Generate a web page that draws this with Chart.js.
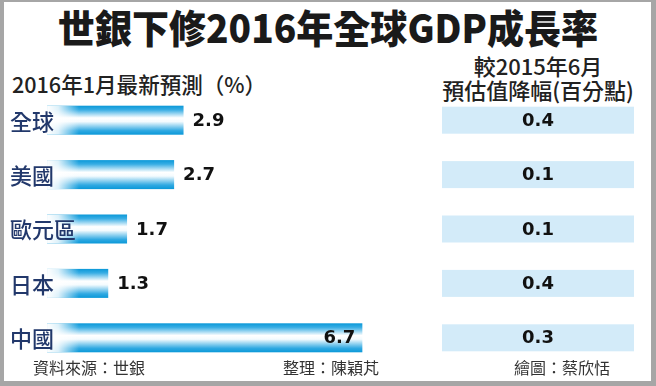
<!DOCTYPE html>
<html>
<head>
<meta charset="utf-8">
<script src="https://cdn.jsdelivr.net/npm/chart.js@4"></script>
<style>
  body { margin: 0; background: #fff; width: 656px; height: 386px; overflow: hidden; position: relative; font-family: "Noto Sans CJK TC", sans-serif; }
  #marco { position: absolute; left: 0; top: 0; width: 656px; height: 386px; box-sizing: border-box;
           border-style: solid; border-color: #a6a6a6; border-width: 2px 5px 5px 4px; }
  .txt { position: absolute; white-space: nowrap; line-height: 1; }
  #titulo { left: 0; width: 656px; top: 7px; text-align: center; font-size: 39px; font-weight: 900; color: #1a1a1a;
            transform: scaleX(0.95); }
  #sub-esq { left: 12px; top: 72px; font-size: 22px; font-weight: 500; color: #222;
             transform: scaleX(0.98); transform-origin: left center; }
  #sub-dir1, #sub-dir2 { left: 428px; width: 220px; text-align: center; font-size: 22px; font-weight: 500; color: #222; }
  #sub-dir1 { top: 54px; }
  #sub-dir2 { top: 78px; }
  .rodape { top: 359px; font-size: 16px; color: #333; }
  .caixa { position: absolute; }
</style>
</head>
<body>
<div id="marco"></div>
<div id="titulo" class="txt">世銀下修2016年全球GDP成長率</div>
<div id="sub-esq" class="txt">2016年1月最新預測（%）</div>
<div id="sub-dir1" class="txt">較2015年6月</div>
<div id="sub-dir2" class="txt">預估值降幅(百分點)</div>
<div class="caixa" style="left:0; top:93px; width:400px; height:272px;"><canvas id="graficoCrescimento"></canvas></div>
<div class="caixa" style="left:442px; top:93px; width:192px; height:272px;"><canvas id="graficoQueda"></canvas></div>
<div class="txt rodape" style="left:33px;">資料來源：世銀</div>
<div class="txt rodape" style="left:283px;">整理：陳穎芃</div>
<div class="txt rodape" style="left:514px;">繪圖：蔡欣恬</div>

<script>
// dados
const regioes = ["全球", "美國", "歐元區", "日本", "中國"];
const previsao2016 = [2.9, 2.7, 1.7, 1.3, 6.7];      // 2016年1月最新預測 (%)
const quedaDesde2015 = [0.4, 0.1, 0.1, 0.4, 0.3];    // 較2015年6月 降幅 (百分點)

const fonteNumero = "bold 18px 'DejaVu Sans', sans-serif";

// barras azuis com degradê + rótulos
const pluginBarras = {
  id: "barrasDegrade",
  afterDatasetsDraw(chart) {
    const ctx = chart.ctx;
    const meta = chart.getDatasetMeta(0);
    meta.data.forEach((bar, i) => {
      const { x, y, base, height } = bar.getProps(["x", "y", "base", "height"], true);
      const topo = y - height / 2;
      const gv = ctx.createLinearGradient(0, topo, 0, topo + height);
      gv.addColorStop(0, "#0a98d8");
      gv.addColorStop(0.14, "#37ade4");
      gv.addColorStop(0.42, "#ffffff");
      gv.addColorStop(0.55, "#f4fbfe");
      gv.addColorStop(0.86, "#30a9e2");
      gv.addColorStop(1, "#0a98d8");
      ctx.save();
      ctx.fillStyle = gv;
      ctx.fillRect(base, topo, x - base, height);
      // esmaecido branco no início da barra
      const gh = ctx.createLinearGradient(base, 0, base + 32, 0);
      gh.addColorStop(0, "rgba(255,255,255,1)");
      gh.addColorStop(0.35, "rgba(255,255,255,0.85)");
      gh.addColorStop(1, "rgba(255,255,255,0)");
      ctx.fillStyle = gh;
      ctx.fillRect(base, topo, Math.min(32, x - base), height);

      // nome da região
      ctx.font = "500 22px 'Noto Sans CJK TC', sans-serif";
      ctx.fillStyle = "#22386b";
      ctx.textAlign = "left";
      ctx.textBaseline = "middle";
      ctx.fillText(chart.data.labels[i], 10, y + 1);

      // valor
      const texto = chart.data.datasets[0].data[i].toFixed(1);
      ctx.font = fonteNumero;
      ctx.fillStyle = "#111";
      const largura = ctx.measureText(texto).width;
      if (x + 9 + largura > chart.chartArea.right) {
        ctx.textAlign = "right";
        ctx.fillText(texto, x - 7, y + 1);
      } else {
        ctx.fillText(texto, x + 9, y + 1);
      }
      ctx.restore();
    });
  }
};

// faixas azul-claro com o valor centralizado
const pluginFaixas = {
  id: "faixasTabela",
  afterDatasetsDraw(chart) {
    const ctx = chart.ctx;
    const area = chart.chartArea;
    const meta = chart.getDatasetMeta(0);
    meta.data.forEach((bar, i) => {
      const { y, height } = bar.getProps(["y", "height"], true);
      ctx.save();
      ctx.fillStyle = "#d3ebf9";
      ctx.fillRect(area.left, y - height / 2, area.right - area.left, height);
      ctx.font = fonteNumero;
      ctx.fillStyle = "#111";
      ctx.textAlign = "center";
      ctx.textBaseline = "middle";
      ctx.fillText(chart.data.datasets[0].data[i].toFixed(1), (area.left + area.right) / 2, y + 1);
      ctx.restore();
    });
  }
};

const opcoesBase = {
  responsive: true,
  maintainAspectRatio: false,
  animation: false,
  indexAxis: "y",
  layout: { padding: 0 },
  plugins: { legend: { display: false }, tooltip: { enabled: false } },
};

new Chart(document.getElementById("graficoCrescimento").getContext("2d"), {
  type: "bar",
  data: {
    labels: regioes,
    datasets: [{ data: previsao2016, barThickness: 29, backgroundColor: "rgba(0,0,0,0)" }]
  },
  options: {
    ...opcoesBase,
    scales: {
      x: { type: "linear", min: -1, max: 7.5, display: false },
      y: { display: false }
    }
  },
  plugins: [pluginBarras]
});

new Chart(document.getElementById("graficoQueda").getContext("2d"), {
  type: "bar",
  data: {
    labels: regioes,
    datasets: [{ data: quedaDesde2015, barThickness: 27, backgroundColor: "rgba(0,0,0,0)" }]
  },
  options: {
    ...opcoesBase,
    scales: {
      x: { type: "linear", min: 0, max: 1, display: false },
      y: { display: false }
    }
  },
  plugins: [pluginFaixas]
});
</script>
</body>
</html>
